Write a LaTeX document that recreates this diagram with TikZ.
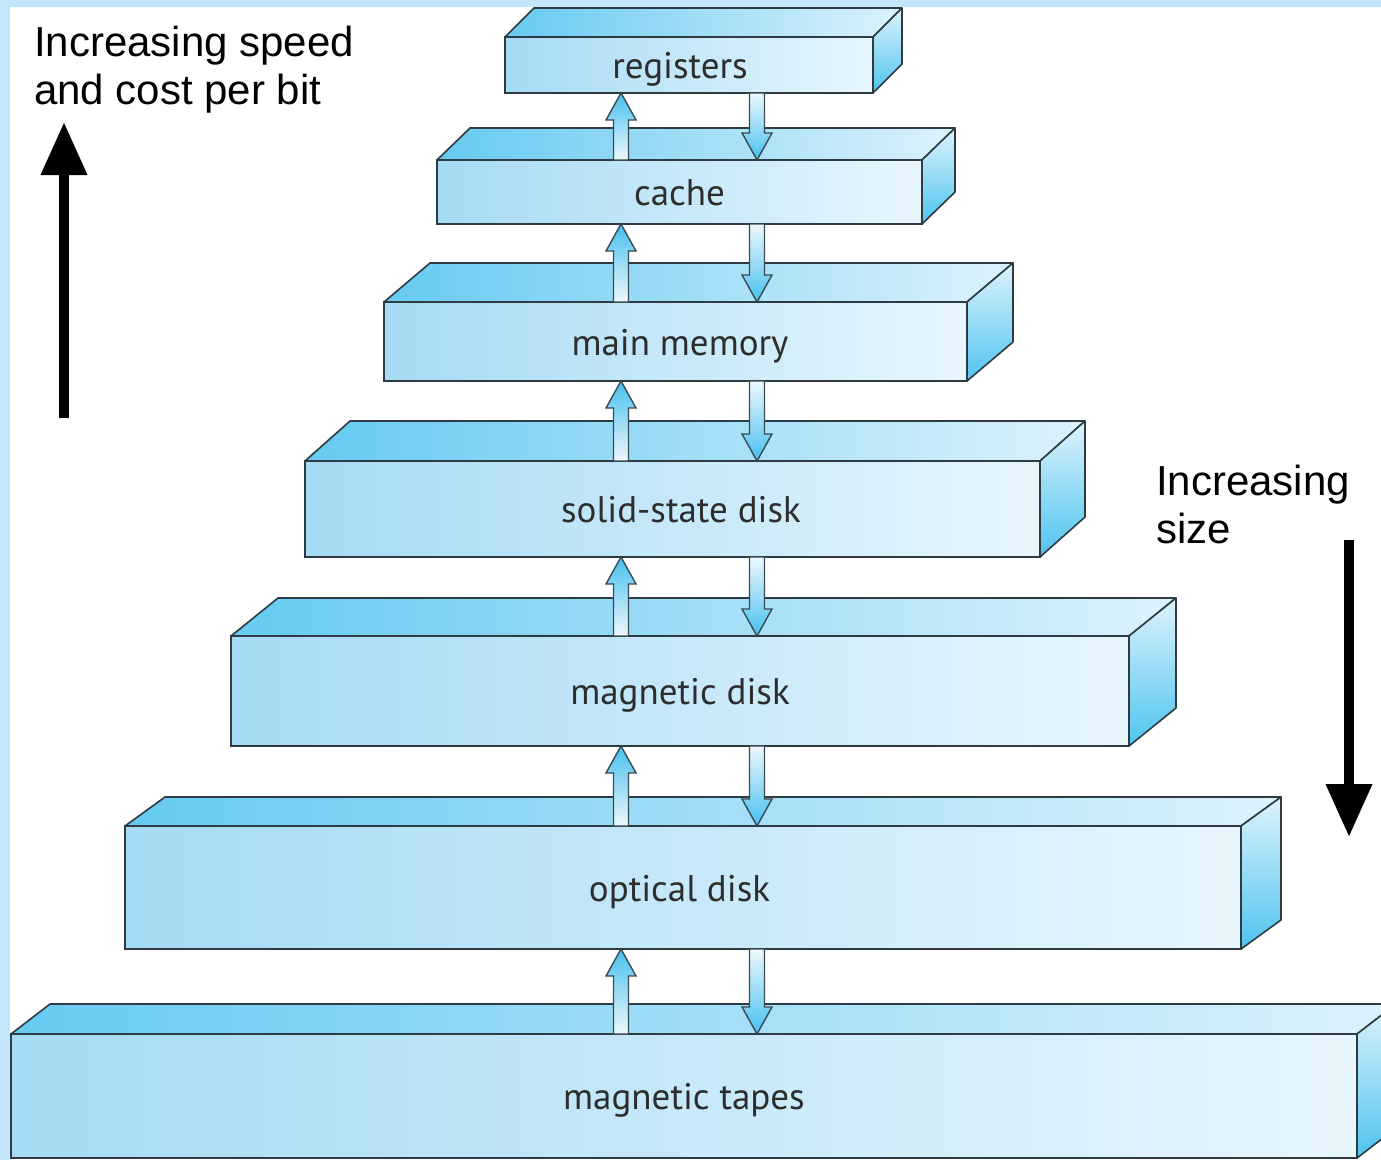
\documentclass[tikz,border=0pt]{standalone}
\usepackage{fontspec}
\setmainfont{PT Sans}
\newfontfamily\arialfont{Liberation Sans}
\usepackage{xcolor}
\usepackage{tikz}
\usetikzlibrary{calc,arrows.meta}

\definecolor{edge}{HTML}{2E3B42}
\definecolor{frontL}{HTML}{A5DBF4}
\definecolor{frontR}{HTML}{E8F6FD}
\definecolor{topL}{HTML}{66CAF1}
\definecolor{topR}{HTML}{DCF2FC}
\definecolor{sideT}{HTML}{DDF3FC}
\definecolor{sideB}{HTML}{4FC4EF}
\definecolor{arrowdark}{HTML}{45C0EE}
\definecolor{arrowlight}{HTML}{EEF8FD}
\definecolor{arrowedge}{HTML}{3A4A52}
\definecolor{frame}{HTML}{C3E7FA}
\definecolor{labeltext}{HTML}{2D2D2D}

% block arrow: style, tail, tip
\newcommand{\blockarrow}[3]{%
  \path (#2) coordinate (ba-tail) (#3) coordinate (ba-tip);
  \path ($(ba-tip)!27pt!(ba-tail)$) coordinate (ba-base);
  \draw[#1] ($(ba-tail)+(-7.5pt,0pt)$) -- ($(ba-base)+(-7.5pt,0pt)$) -- ($(ba-base)+(-15pt,0pt)$) -- (ba-tip)
    -- ($(ba-base)+(15pt,0pt)$) -- ($(ba-base)+(7.5pt,0pt)$) -- ($(ba-tail)+(7.5pt,0pt)$) -- cycle;}

\begin{document}
\begin{tikzpicture}[x=1pt,y=-1pt,
    face/.style={draw=edge,line width=1.6pt,inner sep=0pt,outer sep=0pt,left color=frontL,right color=frontR,
      font=\fontsize{37}{42}\selectfont,text=labeltext,text height=30pt,text depth=3pt},
    topface/.style={draw=edge,line width=1.6pt,line join=round,left color=topL,right color=topR},
    sideface/.style={draw=edge,line width=1.6pt,line join=round,top color=sideT,bottom color=sideB},
    arrowup/.style={draw=arrowedge,line width=1.4pt,top color=arrowdark,bottom color=arrowlight},
    arrowdown/.style={draw=arrowedge,line width=1.4pt,top color=arrowlight,bottom color=arrowdark},
    bigarrow/.style={line width=10pt,-{Triangle[width=44pt,length=53pt]}},
    sidetext/.style={font=\arialfont\fontsize{42}{48}\selectfont,align=left,inner sep=0pt,anchor=north west}]
        % Page
        \useasboundingbox (0,0) rectangle (1381,1160);
        \clip (0,0) rectangle (1381,1160);
        \fill[white] (0,0) rectangle (1381,1160);
        \fill[frame] (0,0) rectangle (1381,7);
        \fill[frame] (0,0) rectangle (10,1160);
        % Levels
        \node[face,minimum width=368pt,minimum height=56pt] (reg) at (689,65) {registers\hspace*{18pt}};
        \draw[topface] (reg.north west) -- ++(29,-29) -- ($(reg.north east)+(29,-29)$) -- (reg.north east) -- cycle;
        \draw[sideface] (reg.north east) -- ++(29,-29) -- ($(reg.south east)+(29,-29)$) -- (reg.south east) -- cycle;
        \node[face,minimum width=485pt,minimum height=64pt] (cache) at (679.5,192) {cache};
        \draw[topface] (cache.north west) -- ++(33,-32) -- ($(cache.north east)+(33,-32)$) -- (cache.north east) -- cycle;
        \draw[sideface] (cache.north east) -- ++(33,-32) -- ($(cache.south east)+(33,-32)$) -- (cache.south east) -- cycle;
        \node[face,minimum width=583pt,minimum height=79pt] (mem) at (675.5,341.5) {\hspace*{9pt}main memory};
        \draw[topface] (mem.north west) -- ++(46,-39) -- ($(mem.north east)+(46,-39)$) -- (mem.north east) -- cycle;
        \draw[sideface] (mem.north east) -- ++(46,-39) -- ($(mem.south east)+(46,-39)$) -- (mem.south east) -- cycle;
        \node[face,minimum width=735pt,minimum height=96pt] (ssd) at (672.5,509) {\hspace*{17pt}solid-state disk};
        \draw[topface] (ssd.north west) -- ++(45,-40) -- ($(ssd.north east)+(45,-40)$) -- (ssd.north east) -- cycle;
        \draw[sideface] (ssd.north east) -- ++(45,-40) -- ($(ssd.south east)+(45,-40)$) -- (ssd.south east) -- cycle;
        \node[face,minimum width=898pt,minimum height=110pt] (mdisk) at (680,691) {magnetic disk};
        \draw[topface] (mdisk.north west) -- ++(47,-38) -- ($(mdisk.north east)+(47,-38)$) -- (mdisk.north east) -- cycle;
        \draw[sideface] (mdisk.north east) -- ++(47,-38) -- ($(mdisk.south east)+(47,-38)$) -- (mdisk.south east) -- cycle;
        \node[face,minimum width=1116pt,minimum height=123pt] (odisk) at (683,887.5) {optical disk\hspace*{7pt}};
        \draw[topface] (odisk.north west) -- ++(40,-29) -- ($(odisk.north east)+(40,-29)$) -- (odisk.north east) -- cycle;
        \draw[sideface] (odisk.north east) -- ++(40,-29) -- ($(odisk.south east)+(40,-29)$) -- (odisk.south east) -- cycle;
        \node[face,minimum width=1346pt,minimum height=124pt] (tapes) at (684,1096) {magnetic tapes};
        \draw[topface] (tapes.north west) -- ++(39,-30) -- ($(tapes.north east)+(39,-30)$) -- (tapes.north east) -- cycle;
        \draw[sideface] (tapes.north east) -- ++(39,-30) -- ($(tapes.south east)+(39,-30)$) -- (tapes.south east) -- cycle;
        % Transfers between levels
        \coordinate (upx) at (621,0);
        \coordinate (dnx) at (757,0);
        \blockarrow{arrowup}{cache.north -| upx}{reg.south -| upx}
        \blockarrow{arrowdown}{reg.south -| dnx}{cache.north -| dnx}
        \blockarrow{arrowup}{mem.north -| upx}{cache.south -| upx}
        \blockarrow{arrowdown}{cache.south -| dnx}{mem.north -| dnx}
        \blockarrow{arrowup}{ssd.north -| upx}{mem.south -| upx}
        \blockarrow{arrowdown}{mem.south -| dnx}{ssd.north -| dnx}
        \blockarrow{arrowup}{mdisk.north -| upx}{ssd.south -| upx}
        \blockarrow{arrowdown}{ssd.south -| dnx}{mdisk.north -| dnx}
        \blockarrow{arrowup}{odisk.north -| upx}{mdisk.south -| upx}
        \blockarrow{arrowdown}{mdisk.south -| dnx}{odisk.north -| dnx}
        \blockarrow{arrowup}{tapes.north -| upx}{odisk.south -| upx}
        \blockarrow{arrowdown}{odisk.south -| dnx}{tapes.north -| dnx}
        % Side notes
        \node[sidetext] (speed) at (34,26) {Increasing speed\\and cost per bit};
        \coordinate (speedtail) at (64,418);
        \coordinate (speedtip) at (64,122);
        \draw[bigarrow] (speedtail) -- (speedtip);
        \node[sidetext] (size) at (1156,465) {Increasing\\size};
        \coordinate (sizetail) at (1349,540);
        \coordinate (sizetip) at (1349,837);
        \draw[bigarrow] (sizetail) -- (sizetip);
    \end{tikzpicture}
\end{document}
